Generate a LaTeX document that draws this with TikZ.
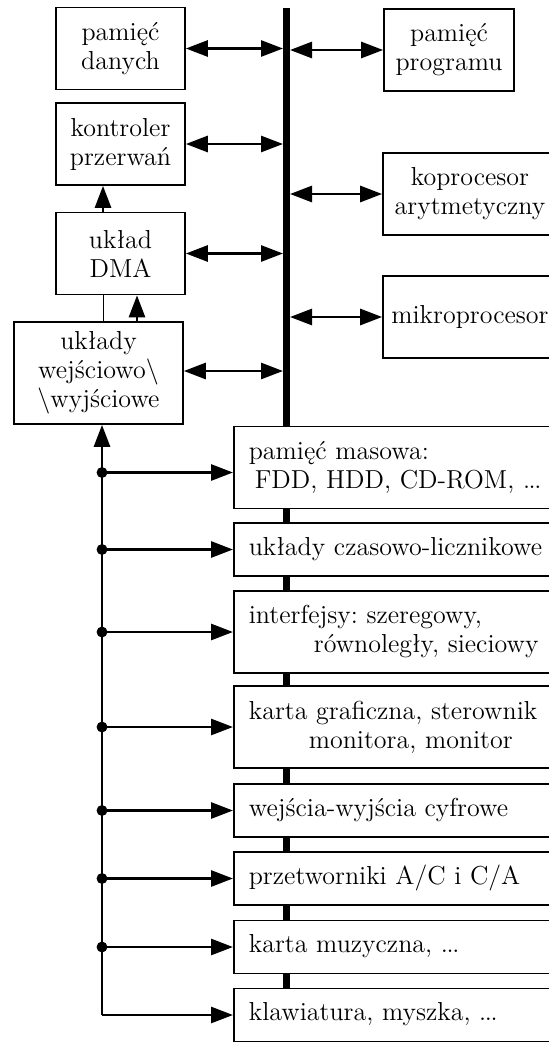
\documentclass[tikz,border=0pt]{standalone}
\usepackage{fontspec}
\usetikzlibrary{arrows.meta}
\newcommand{\kropki}{.\kern-0.7pt.\kern-0.7pt.}
\frenchspacing

\begin{document}
\begin{tikzpicture}[x=0.5pt, y=-0.5pt,
    font=\fontsize{13}{14.5}\selectfont,
    >={Triangle[length=11pt,width=8pt]},
    blok/.style={draw, line width=0.85pt, fill=white, align=center,
        inner sep=0pt, minimum width=64.5pt, minimum height=41pt},
    modul/.style={draw, line width=0.85pt, fill=white, anchor=west,
        align=left, inner xsep=7.5pt, inner ysep=0pt, text width=175pt,
        minimum height=41pt},
    jeden/.style={modul, minimum height=26.5pt, text height=16pt, text depth=10.5pt},
    lacze/.style={line width=1.4pt}]
\useasboundingbox (0,0) rectangle (548,1044);

% szyna
\coordinate (szyna) at (286.5,8);
\coordinate (szyna dol) at (286.5,988);
\coordinate (szynaL) at (283,8);
\coordinate (szynaP) at (290,8);
\draw[line width=3.5pt] (szyna) -- (szyna dol);

% lewa kolumna
\node[blok] (dane) at (120.5,48.5) {pamięć\\danych};
\node[blok] (kontroler) at (120.5,144) {kontroler\\przerwań};
\node[blok] (dma) at (120.5,253.5) {układ\\DMA};
\node[blok, minimum width=84.5pt, minimum height=51pt] (io) at (98.5,373)
    {układy\\wejściowo\textbackslash\\\textbackslash wyjściowe};

% prawa kolumna
\node[blok, minimum width=65pt] (program) at (449,50) {pamięć\\programu};
\node[blok, minimum width=87pt] (kopro) at (470,194) {koprocesor\\arytmetyczny};
\node[blok, minimum width=87pt] (mikro) at (470,317) {mikroprocesor};

% urzadzenia
\node[modul] (m1) at (233,467.5) {pamięć masowa:\\\hspace*{3pt}FDD, HDD, CD-ROM, \kropki};
\node[jeden] (m2) at (233,549.5) {układy czasowo-licznikowe};
\node[modul] (m3) at (233,632) {interfejsy: szeregowy,\\\hspace*{32.5pt}równoległy, sieciowy};
\node[modul] (m4) at (233,727) {karta graficzna, sterownik\\\hspace*{30pt}monitora, monitor};
\node[jeden] (m5) at (233,810.5) {wejścia-wyjścia cyfrowe};
\node[jeden] (m6) at (233,878.5) {przetworniki A/C i C/A};
\node[jeden] (m7) at (233,947) {karta muzyczna, \kropki};
\node[jeden] (m8) at (233,1015) {klawiatura, myszka, \kropki};

% polaczenia z szyna
\draw[lacze, <->] (dane.east) -- (dane.east -| szynaL);
\draw[lacze, <->] (kontroler.east) -- (kontroler.east -| szynaL);
\draw[lacze, <->] (dma.east) -- (dma.east -| szynaL);
\draw[lacze, <->] ([yshift=1pt]io.east) -- ([yshift=1pt]io.east -| szynaL);
\draw[lacze, <->] (program.west -| szynaP) -- (program.west);
\draw[lacze, <->] (kopro.west -| szynaP) -- (kopro.west);
\draw[lacze, <->] (mikro.west -| szynaP) -- (mikro.west);

% DMA, przerwania
\draw[lacze, ->] ([xshift=-8.75pt]dma.north) -- ([xshift=-8.75pt]kontroler.south);
\draw[line width=0.5pt] ([xshift=-8.75pt]dma.south) -- ([xshift=-8.75pt]dma.south |- io.north);
\draw[lacze, ->] ([xshift=8.25pt]dma.south |- io.north) -- ([xshift=8.25pt]dma.south);

% magistrala urzadzen
\coordinate (rog) at (102,1015);
\draw[lacze, ->] (rog) -- (rog |- io.south);
\draw[lacze, ->] ([yshift=-2.5pt]rog |- m1.west) -- ([yshift=-2.5pt]m1.west);
\draw[lacze, ->] (rog |- m2.west) -- (m2.west);
\draw[lacze, ->] (rog |- m3.west) -- (m3.west);
\draw[lacze, ->] (rog |- m4.west) -- (m4.west);
\draw[lacze, ->] (rog |- m5.west) -- (m5.west);
\draw[lacze, ->] (rog |- m6.west) -- (m6.west);
\draw[lacze, ->] (rog |- m7.west) -- (m7.west);
\draw[lacze, ->] (rog) -- (m8.west);
\filldraw
    ([yshift=-2.5pt]rog |- m1.west) circle (2.5pt)  % m1
    (rog |- m2.west) circle (2.5pt)  % m2
    (rog |- m3.west) circle (2.5pt)  % m3
    (rog |- m4.west) circle (2.5pt)  % m4
    (rog |- m5.west) circle (2.5pt)  % m5
    (rog |- m6.west) circle (2.5pt)  % m6
    (rog |- m7.west) circle (2.5pt); % m7

\end{tikzpicture}
\end{document}
